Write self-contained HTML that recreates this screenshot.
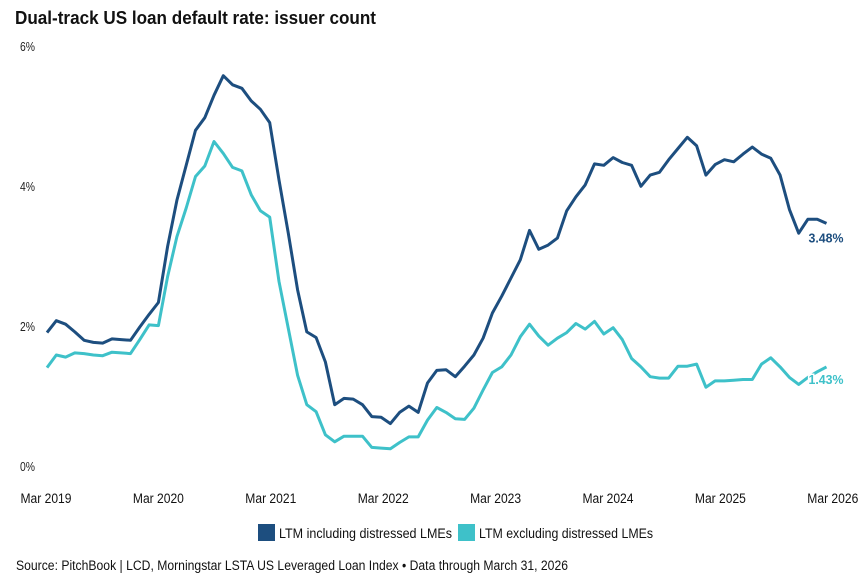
<!DOCTYPE html>
<html><head><meta charset="utf-8"><style>
html,body{margin:0;padding:0;background:#fff;}
svg{display:block;font-family:"Liberation Sans Narrow","Liberation Sans",sans-serif;}
</style></head><body>
<svg id="chart" width="865" height="584" viewBox="0 0 865 584">
<text x="15" y="24" font-family="Liberation Sans, sans-serif" font-weight="bold" font-size="18" fill="#111" textLength="361" lengthAdjust="spacingAndGlyphs">Dual-track US loan default rate: issuer count</text>
<g id="yaxis"></g>
<g id="xaxis"></g>
<g id="series"></g>
<g>
<rect x="258" y="524" width="17" height="17" fill="#1d4e7f"/>
<text x="279" y="538" font-size="13.5" fill="#111" textLength="173" lengthAdjust="spacingAndGlyphs">LTM including distressed LMEs</text>
<rect x="458" y="524" width="17" height="17" fill="#3ec1c9"/>
<text x="479" y="538" font-size="13.5" fill="#111" textLength="174" lengthAdjust="spacingAndGlyphs">LTM excluding distressed LMEs</text>
</g>
<text x="16" y="570" font-size="13.5" fill="#111" textLength="552" lengthAdjust="spacingAndGlyphs">Source: PitchBook | LCD, Morningstar LSTA US Leveraged Loan Index • Data through March 31, 2026</text>
</svg>
<script>
const yTicks = [0, 2, 4, 6];
const xLabels = ["Mar 2019","Mar 2020","Mar 2021","Mar 2022","Mar 2023","Mar 2024","Mar 2025","Mar 2026"];
const includingLME = [1.92,2.09,2.04,1.93,1.81,1.78,1.77,1.83,1.82,1.81,2.00,2.18,2.35,3.15,3.81,4.31,4.81,4.99,5.31,5.59,5.46,5.41,5.23,5.11,4.92,4.10,3.34,2.53,1.93,1.85,1.50,
0.89,0.98,0.97,0.89,0.72,0.71,0.62,0.78,0.87,0.78,1.20,1.38,1.39,1.29,1.44,1.60,1.84,2.20,2.44,2.70,2.96,3.38,3.11,3.17,3.27,
3.66,3.86,4.03,4.33,4.31,4.42,4.35,4.31,4.01,4.17,4.21,4.39,4.55,4.71,4.59,4.17,4.32,4.39,4.36,4.47,4.57,4.47,4.41,4.17,3.68,3.34,3.54,3.54,3.48];
const excludingLME = [1.42,1.60,1.57,1.63,1.62,1.60,1.59,1.64,1.63,1.62,1.82,2.03,2.02,2.72,3.29,3.70,4.15,4.30,4.65,4.48,4.28,4.23,3.89,3.66,3.57,2.65,1.98,1.31,0.89,0.79,0.46,
0.36,0.44,0.44,0.44,0.28,0.27,0.26,0.35,0.43,0.43,0.67,0.85,0.78,0.69,0.68,0.84,1.10,1.35,1.43,1.60,1.86,2.04,1.87,1.74,1.84,1.92,
2.05,1.97,2.08,1.90,1.99,1.82,1.55,1.43,1.29,1.27,1.27,1.44,1.44,1.47,1.14,1.23,1.23,1.24,1.25,1.25,1.47,1.56,1.43,1.28,1.18,1.28,1.36,1.43];

const NS = "http://www.w3.org/2000/svg";
const x0 = 47, x1 = 826.5, y0 = 467, y6 = 47;
const xScale = i => x0 + (x1 - x0) * i / (includingLME.length - 1);
const yScale = v => y0 + (y6 - y0) * v / 6;
const labelX = i => 46 + 112.4 * i;
function mk(tag, attrs, parent){ const e=document.createElementNS(NS,tag); for(const k in attrs) e.setAttribute(k,attrs[k]); parent.appendChild(e); return e; }

const ya = document.getElementById('yaxis');
yTicks.forEach(t => {
  const el = mk('text', {x:20, y:yScale(t)+4, 'font-size':12.5, fill:'#222', textLength:15, lengthAdjust:'spacingAndGlyphs'}, ya);
  el.textContent = t + '%';
  
  
});
const xa = document.getElementById('xaxis');
xLabels.forEach((l, i) => {
  const el = mk('text', {x:labelX(i), y:503, 'font-size':13.5, fill:'#111', 'text-anchor':'middle', textLength:51, lengthAdjust:'spacingAndGlyphs'}, xa);
  el.textContent = l;
  
  
});

const sg = document.getElementById('series');
function line(vals, color, name){
  const d = vals.map((v,i)=>(i?'L':'M')+xScale(i).toFixed(1)+' '+yScale(v).toFixed(1)).join(' ');
  const p = mk('path', {d:d, fill:'none', stroke:color, 'stroke-width':3, 'stroke-linejoin':'round'}, sg);
  
  
}
line(excludingLME, '#3ec1c9', 'line-excluding-lme');
line(includingLME, '#1d4e7f', 'line-including-lme');

const lastI = includingLME.length - 1;
const l1 = mk('text', {x:xScale(lastI)-18, y:yScale(includingLME[lastI])+19, 'font-size':13, 'font-weight':'bold', fill:'#1d4e7f', textLength:35, lengthAdjust:'spacingAndGlyphs'}, sg);
l1.textContent = includingLME[lastI].toFixed(2) + '%';


const l2 = mk('text', {x:xScale(lastI)-18, y:yScale(excludingLME[lastI])+17, 'font-size':13, 'font-weight':'bold', fill:'#3ec1c9', stroke:'#fff', 'stroke-width':3, 'paint-order':'stroke', textLength:35, lengthAdjust:'spacingAndGlyphs'}, sg);
l2.textContent = excludingLME[lastI].toFixed(2) + '%';


</script>
</body></html>
